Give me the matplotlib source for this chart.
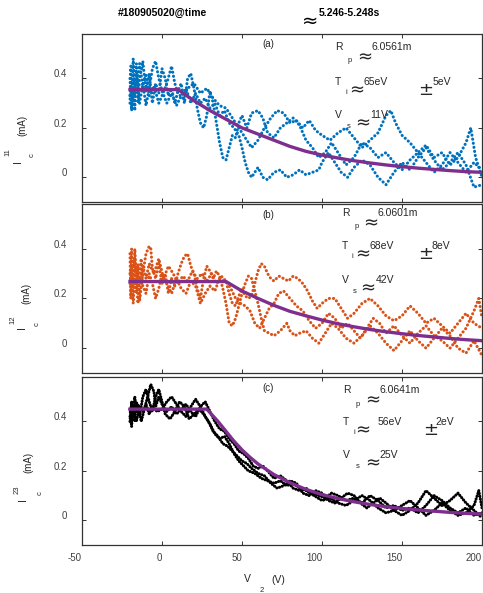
import matplotlib
matplotlib.use("Agg")
import matplotlib.pyplot as plt
from matplotlib.transforms import ScaledTranslation

plt.rcParams['font.family'] = ['Liberation Sans', 'DejaVu Sans']
plt.rcParams['axes.unicode_minus'] = False

# ---- data ----
# panel (a), I11, blue sweeps
a1_x = [-20,-19.5,-19,-18,-17,-16,-15,-14,-12,-10,-8,-6,-4,-2,0,2,4,6,8,10,12,14,16,18,20,22,24,26,28,30,32,34,36,38,40,42,44,46,48,50,53,56,60,63,66,70,74,78,82,86,90,94,98,102,106,110,115,120,125,130,135,140,145,150,155,160,165,170,175,180,185,190,195,200]
a1_y = [0.30,0.45,0.28,0.48,0.33,0.46,0.30,0.40,0.47,0.35,0.42,0.30,0.38,0.34,0.44,0.40,0.33,0.36,0.30,0.35,0.38,0.30,0.40,0.42,0.36,0.28,0.22,0.20,0.25,0.35,0.30,0.22,0.14,0.08,0.07,0.12,0.17,0.16,0.22,0.25,0.20,0.26,0.27,0.24,0.18,0.16,0.20,0.22,0.24,0.21,0.15,0.12,0.08,0.10,0.14,0.10,0.05,0.08,0.14,0.12,0.08,0.10,0.06,0.03,0.07,0.10,0.06,0.02,0.05,0.10,0.06,0.02,0.06,0.03]
a2_x = [-20,-19,-18,-17,-16,-14,-12,-10,-8,-6,-4,-2,0,3,6,9,12,15,18,21,24,27,30,33,36,39,42,45,48,50,52,54,56,58,60,63,66,70,74,78,82,86,90,94,98,100,104,108,112,116,120,125,130,135,140,145,150,155,160,165,170,175,180,185,190,195,200]
a2_y = [0.40,0.27,0.36,0.27,0.43,0.30,0.38,0.29,0.36,0.44,0.47,0.40,0.35,0.30,0.34,0.29,0.33,0.36,0.30,0.34,0.30,0.32,0.28,0.30,0.25,0.27,0.22,0.20,0.17,0.12,0.06,0.02,0.00,0.02,0.04,0.00,-0.01,0.02,0.03,0.00,0.01,0.03,0.01,0.02,0.03,0.06,0.10,0.06,0.02,0.00,0.04,0.07,0.05,0.00,-0.03,0.02,0.06,0.03,0.08,0.12,0.07,0.03,0.06,0.10,0.05,-0.04,-0.03]
a3_x = [-20,-18,-16,-14,-12,-10,-8,-5,-2,0,3,6,8,10,13,16,20,24,28,32,36,40,44,48,52,56,60,64,68,72,76,80,84,88,92,96,100,105,110,115,120,125,130,135,140,143,146,150,155,160,165,170,175,180,185,190,193,196,200]
a3_y = [0.33,0.40,0.35,0.46,0.37,0.42,0.33,0.37,0.30,0.33,0.38,0.45,0.38,0.34,0.32,0.36,0.38,0.34,0.36,0.32,0.29,0.28,0.24,0.20,0.16,0.12,0.15,0.20,0.24,0.27,0.26,0.22,0.23,0.20,0.23,0.19,0.17,0.15,0.18,0.20,0.16,0.12,0.15,0.18,0.25,0.27,0.22,0.17,0.14,0.10,0.13,0.08,0.10,0.05,0.08,0.14,0.20,0.08,0.00]
a_fit_x = [-20,10,20,30,40,50,60,70,80,90,100,110,120,130,140,150,160,170,180,190,200]
a_fit_y = [0.355,0.355,0.31,0.27,0.235,0.20,0.175,0.15,0.125,0.105,0.09,0.078,0.067,0.058,0.05,0.043,0.037,0.032,0.027,0.023,0.02]

# panel (b), I12, orange sweeps
b1_x = [-20,-19.5,-19,-18,-17,-16,-15,-14,-12,-10,-8,-7,-6,-4,-2,0,2,4,6,8,10,12,14,16,18,20,22,24,26,28,30,32,34,36,38,40,42,44,46,48,50,52,54,56,58,60,62,64,67,70,74,78,80,83,86,90,94,98,102,106,110,115,120,125,130,135,140,145,150,155,160,165,170,175,180,185,190,195,200]
b1_y = [0.38,0.20,0.40,0.18,0.36,0.22,0.34,0.19,0.30,0.38,0.41,0.40,0.32,0.28,0.34,0.26,0.30,0.22,0.28,0.25,0.30,0.34,0.37,0.38,0.33,0.30,0.24,0.20,0.28,0.33,0.31,0.28,0.31,0.29,0.24,0.18,0.10,0.09,0.12,0.17,0.22,0.26,0.29,0.28,0.23,0.18,0.12,0.07,0.06,0.05,0.07,0.10,0.07,0.05,0.06,0.07,0.04,0.02,0.06,0.10,0.08,0.04,0.02,0.05,0.09,0.06,0.02,-0.01,0.03,0.07,0.03,0.00,0.04,0.08,0.05,0.00,-0.02,0.03,-0.03]
b2_x = [-20,-19,-18,-17,-16,-15,-14,-13,-12,-10,-8,-6,-4,-2,0,3,6,9,12,15,18,21,24,27,30,33,36,40,42,44,46,48,50,52,54,56,58,60,62,64,66,68,70,73,76,79,82,85,88,91,94,97,100,104,108,112,116,120,125,130,135,140,145,150,155,160,165,170,175,180,185,190,195,200]
b2_y = [0.26,0.33,0.24,0.40,0.28,0.18,0.30,0.36,0.25,0.22,0.30,0.26,0.20,0.24,0.30,0.26,0.22,0.28,0.24,0.22,0.27,0.25,0.18,0.22,0.25,0.23,0.28,0.27,0.22,0.18,0.17,0.21,0.24,0.21,0.20,0.21,0.26,0.31,0.34,0.33,0.30,0.28,0.27,0.29,0.28,0.27,0.29,0.28,0.26,0.23,0.19,0.16,0.18,0.20,0.20,0.16,0.12,0.14,0.18,0.20,0.17,0.13,0.11,0.13,0.17,0.14,0.10,0.12,0.09,0.06,0.10,0.14,0.10,0.08]
b3_x = [-20,-18,-16,-14,-12,-10,-8,-5,-2,1,4,7,10,13,16,19,22,25,28,31,34,37,40,43,46,49,52,55,58,61,64,67,70,73,76,80,84,88,92,96,100,104,108,112,116,120,124,128,132,136,140,145,150,155,160,165,170,175,180,185,190,195,198,200]
b3_y = [0.30,0.35,0.31,0.26,0.33,0.28,0.34,0.30,0.36,0.28,0.33,0.30,0.26,0.29,0.27,0.31,0.28,0.30,0.27,0.30,0.26,0.29,0.27,0.24,0.20,0.18,0.17,0.15,0.10,0.08,0.12,0.16,0.18,0.22,0.23,0.20,0.17,0.15,0.11,0.08,0.10,0.14,0.12,0.08,0.10,0.07,0.04,0.08,0.12,0.10,0.06,0.09,0.05,0.02,0.06,0.09,0.05,0.03,0.00,0.04,0.08,0.15,0.20,0.12]
b_fit_x = [-20,40,50,60,70,80,90,100,110,120,130,140,150,160,170,180,190,200]
b_fit_y = [0.268,0.268,0.23,0.20,0.172,0.148,0.13,0.113,0.098,0.086,0.075,0.066,0.058,0.051,0.045,0.039,0.034,0.03]

# panel (c), I23, black sweeps
c1_x = [-20,-19,-18,-17,-16,-15,-13,-11,-9,-7,-5,-4,-2,0,3,6,9,12,15,18,21,24,27,30,33,36,39,42,45,48,51,54,57,60,63,66,70,74,78,82,86,90,94,98,102,106,110,115,120,125,130,135,140,145,150,155,160,165,170,175,180,185,190,195,200]
c1_y = [0.40,0.48,0.42,0.50,0.44,0.47,0.40,0.45,0.50,0.55,0.52,0.46,0.50,0.47,0.44,0.46,0.43,0.45,0.47,0.44,0.42,0.46,0.48,0.44,0.40,0.37,0.36,0.33,0.31,0.28,0.27,0.25,0.22,0.21,0.22,0.20,0.17,0.18,0.16,0.13,0.12,0.13,0.11,0.10,0.09,0.11,0.10,0.08,0.09,0.07,0.10,0.08,0.05,0.06,0.04,0.05,0.03,0.06,0.10,0.08,0.05,0.03,0.05,0.02,0.03]
c2_x = [-20,-19,-18,-17,-16,-14,-12,-10,-8,-6,-4,-2,0,2,5,8,11,14,17,20,23,26,29,32,35,38,41,44,47,50,53,56,60,64,68,72,76,80,84,88,92,96,100,104,108,112,116,120,124,128,132,136,140,145,150,155,160,165,170,175,180,185,190,195,200]
c2_y = [0.45,0.38,0.47,0.40,0.48,0.42,0.50,0.53,0.48,0.44,0.50,0.53,0.48,0.43,0.41,0.44,0.48,0.46,0.41,0.43,0.45,0.43,0.40,0.36,0.34,0.31,0.30,0.28,0.26,0.24,0.23,0.21,0.19,0.18,0.15,0.13,0.14,0.16,0.15,0.11,0.10,0.12,0.11,0.08,0.07,0.09,0.11,0.10,0.07,0.05,0.07,0.09,0.07,0.04,0.02,0.04,0.07,0.12,0.09,0.06,0.08,0.11,0.07,0.04,0.01]
c3_x = [-20,-18,-16,-14,-12,-10,-8,-6,-3,0,3,6,9,12,15,18,21,24,27,30,33,36,39,42,45,48,51,54,58,62,66,70,74,78,82,86,90,95,100,105,110,115,120,125,130,135,140,145,150,155,160,165,170,175,180,185,190,195,198,200]
c3_y = [0.42,0.44,0.40,0.46,0.44,0.47,0.43,0.46,0.44,0.45,0.48,0.50,0.47,0.44,0.42,0.46,0.49,0.46,0.42,0.39,0.35,0.33,0.34,0.31,0.27,0.24,0.22,0.20,0.19,0.17,0.16,0.15,0.16,0.14,0.15,0.13,0.12,0.10,0.08,0.09,0.07,0.06,0.08,0.10,0.08,0.05,0.03,0.04,0.06,0.08,0.05,0.02,0.04,0.07,0.04,0.02,0.03,0.06,0.12,0.05]
c_fit_x = [-20,28,35,40,45,50,55,60,70,80,90,100,110,120,130,140,150,160,170,180,190,200]
c_fit_y = [0.45,0.45,0.40,0.36,0.32,0.285,0.255,0.228,0.185,0.152,0.125,0.104,0.088,0.075,0.064,0.055,0.048,0.042,0.037,0.032,0.028,0.025]

panel_tags = ["(a)", "(b)", "(c)"]
ylabel_idx = ["11", "12", "23"]
rp_vals = ["6.0561m", "6.0601m", "6.0641m"]
ti_vals = ["65eV", "68eV", "56eV"]
ti_errs = ["5eV", "8eV", "2eV"]
vs_vals = ["11V", "42V", "25V"]

xticks = [-50, 0, 50, 100, 150, 200]
yticks = [0, 0.2, 0.4]
yticklabels = ["0", "0.2", "0.4"]

W, H = 483, 593
fig = plt.figure(figsize=(W / 100, H / 100), dpi=100)

def px(x, y, s, **kw):
    # place text using pixel coords of the reference image
    kw.setdefault("color", "#262626")
    kw.setdefault("va", "center")
    kw.setdefault("ha", "left")
    fig.text(x / W, 1 - y / H, s, **kw)

# axes boxes in pixel coords: (top, bottom)
boxes = [(34, 202), (204, 373), (377, 545)]
left_px, right_px = 82, 482

sweeps = [
    [(a1_x, a1_y), (a2_x, a2_y), (a3_x, a3_y)],
    [(b1_x, b1_y), (b2_x, b2_y), (b3_x, b3_y)],
    [(c1_x, c1_y), (c2_x, c2_y), (c3_x, c3_y)],
]
fits = [(a_fit_x, a_fit_y), (b_fit_x, b_fit_y), (c_fit_x, c_fit_y)]
colors = ["#0072BD", "#D95319", "#000000"]

up5 = ScaledTranslation(0, 5 / 100, fig.dpi_scale_trans)

axes = []
for i, (top, bot) in enumerate(boxes):
    ax = fig.add_axes([left_px / W, 1 - bot / H, (right_px - left_px) / W, (bot - top) / H])
    axes.append(ax)
    dash = (0, (0.05, 1.3)) if i < 2 else (0, (0.05, 0.9))
    for sx, sy in sweeps[i]:
        ax.plot(sx, sy, color=colors[i], lw=2.2, linestyle=dash,
                dash_capstyle="round", solid_capstyle="round")
    ax.plot(fits[i][0], fits[i][1], color="#7E2F8E", lw=2.4, zorder=5)
    ax.set_xlim(-50, 200)
    ax.set_ylim(-0.1, 0.58)
    ax.set_xticks(xticks)
    ax.set_yticks(yticks)
    ax.set_yticklabels(yticklabels)
    ax.tick_params(direction="in", top=True, right=True, length=3, width=0.7,
                   labelsize=7, labelcolor="#404040", color="#333333")
    ax.tick_params(axis="x", pad=6)
    ax.tick_params(axis="y", pad=11)
    for lab in ax.get_yticklabels():
        lab.set_transform(lab.get_transform() + up5)
    if i < 2:
        ax.tick_params(labelbottom=False)
    else:
        for lab in ax.get_xticklabels():
            lab.set_horizontalalignment("right")
    for sp in ax.spines.values():
        sp.set_color("#333333")
        sp.set_linewidth(0.9)

# title
px(118, 13, "#180905020@time", fontsize=7.5, fontweight="bold", color="black")
px(302, 21, "\u2248", fontsize=14, family="DejaVu Sans", color="black")
px(319, 13, "5.246-5.248s", fontsize=7.5, fontweight="bold", color="black")

# annotations per panel: pixel anchors
anno = [
    dict(tag=(268, 44), R=335, Rp=348, Rap=357, Rv=371, y0=47,
         T=335, Ti=345, Tap=349, Tv=363, ty=82, pm=418, pe=433,
         V=335, Vs=347, Vap=355, Vv=370, vy=115),
    dict(tag=(268, 215), R=342, Rp=355, Rap=363, Rv=377, y0=213,
         T=342, Ti=352, Tap=355, Tv=370, ty=246, pm=418, pe=431,
         V=342, Vs=353, Vap=360, Vv=376, vy=280),
    dict(tag=(268, 388), R=343, Rp=356, Rap=365, Rv=379, y0=390,
         T=343, Ti=353, Tap=355, Tv=378, ty=422, pm=423, pe=435,
         V=343, Vs=356, Vap=365, Vv=379, vy=455),
]
for i, d in enumerate(anno):
    px(d["tag"][0], d["tag"][1], panel_tags[i], fontsize=7, ha="center")
    y0 = d["y0"]
    px(d["R"], y0, "R", fontsize=7.5)
    px(d["Rp"], y0 + 14, "p", fontsize=5.5)
    px(d["Rap"], y0 + 10, "\u2248", fontsize=13, family="DejaVu Sans")
    px(d["Rv"], y0, rp_vals[i], fontsize=7.5)
    ty = d["ty"]
    px(d["T"], ty, "T", fontsize=7.5)
    px(d["Ti"], ty + 11, "i", fontsize=5.5)
    px(d["Tap"], ty + 8, "\u2248", fontsize=13, family="DejaVu Sans")
    px(d["Tv"], ty, ti_vals[i], fontsize=7.5)
    px(d["pm"], ty + 8, "\u00b1", fontsize=13, family="DejaVu Sans")
    px(d["pe"], ty, ti_errs[i], fontsize=7.5)
    vy = d["vy"]
    px(d["V"], vy, "V", fontsize=7.5)
    px(d["Vs"], vy + 11, "s", fontsize=5.5)
    px(d["Vap"], vy + 8, "\u2248", fontsize=13, family="DejaVu Sans")
    px(d["Vv"], vy, vs_vals[i], fontsize=7.5)

# y labels, pieced together like the original
ylab_pos = [
    dict(I=(18, 162), sup=(8, 152), c=(32, 155), mA=(22, 125)),
    dict(I=(22, 328), sup=(13, 320), c=(37, 324), mA=(26, 293)),
    dict(I=(23, 500), sup=(17, 490), c=(40, 493), mA=(28, 462)),
]
for i, p in enumerate(ylab_pos):
    px(p["I"][0], p["I"][1], "I", fontsize=7.5, rotation=90, ha="center")
    px(p["sup"][0], p["sup"][1], ylabel_idx[i], fontsize=5.5, rotation=90, ha="center")
    px(p["c"][0], p["c"][1], "c", fontsize=5.5, rotation=90, ha="center")
    px(p["mA"][0], p["mA"][1], "(mA)", fontsize=7, rotation=90, ha="center")

# x label
px(247, 579, "V", fontsize=7.5, ha="center")
px(262, 590, "2", fontsize=5.5, ha="center")
px(278, 580, "(V)", fontsize=7.5, ha="center")

fig.savefig("out.png", dpi=100)
